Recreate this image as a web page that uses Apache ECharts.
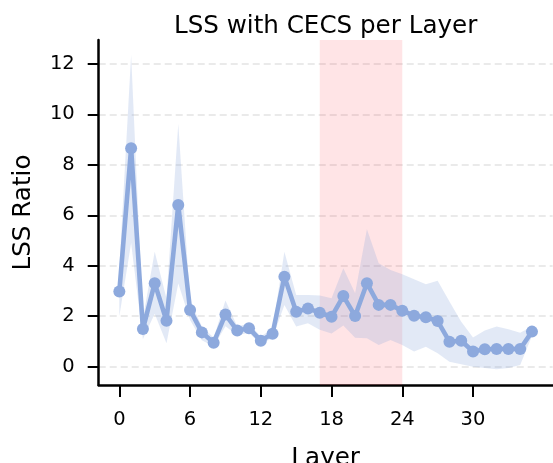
<!DOCTYPE html>
<html><head><meta charset="utf-8">
<script src="https://cdn.jsdelivr.net/npm/echarts@6/dist/echarts.min.js"></script>
<style>html,body{margin:0;padding:0;background:#fff;overflow:hidden}#c{width:553px;height:463px}</style>
</head><body><div id="c"></div>
<script>
const layers = [0,1,2,3,4,5,6,7,8,9,10,11,12,13,14,15,16,17,18,19,20,21,22,23,24,25,26,27,28,29,30,31,32,33,34,35];
const meanLSS = [2.98,8.66,1.49,3.31,1.82,6.41,2.25,1.36,0.95,2.07,1.43,1.52,1.03,1.31,3.57,2.18,2.31,2.14,1.98,2.80,2.01,3.31,2.45,2.45,2.22,2.02,1.96,1.81,0.99,1.03,0.60,0.69,0.70,0.70,0.70,1.39];
const upperLSS = [3.9,12.36,1.9,4.56,2.7,9.62,2.6,1.6,1.15,2.62,1.6,1.7,1.2,1.5,4.56,2.84,2.84,2.82,2.71,3.90,2.91,5.45,4.10,3.83,3.66,3.47,3.27,3.41,2.58,1.78,1.16,1.43,1.59,1.48,1.35,1.59];
const lowerLSS = [2.0,4.9,1.1,2.1,0.93,3.3,1.85,1.05,0.8,1.6,1.25,1.35,0.88,1.15,2.45,1.59,1.72,1.46,1.32,1.63,1.15,1.13,0.86,1.06,0.86,0.60,0.79,0.53,0.20,0.10,0.00,-0.05,-0.10,-0.05,0.07,1.22];
const highlightRange = [17, 24];
const xTicks = [0,6,12,18,24,30];
const yTicks = [0,2,4,6,8,10,12];

const FONT = 'DejaVu Sans';
const LINE = '#8DA9DD';
const chart = echarts.init(document.getElementById('c'), null, {renderer:'canvas'});
const bandData = layers.map((x,i) => [x, lowerLSS[i], upperLSS[i]]);

function renderBand(params, api) {
  if (params.dataIndex !== 0) return null;
  const pts = [];
  for (let i = 0; i < layers.length; i++) pts.push(api.coord([layers[i], upperLSS[i]]));
  for (let i = layers.length - 1; i >= 0; i--) pts.push(api.coord([layers[i], lowerLSS[i]]));
  return {type: 'polygon', shape: {points: pts}, style: {fill: 'rgba(141,169,221,0.25)', stroke: null}, silent: true};
}

chart.setOption({
  animation: false,
  backgroundColor: '#fff',
  title: {
    text: 'LSS with CECS per Layer',
    left: 325.6, top: 14, textAlign: 'center', padding: 0,
    textStyle: {fontSize: 24.6, fontWeight: 'normal', color: '#000', fontFamily: FONT}
  },
  grid: {left: 98.7, top: 40, width: 453.9, height: 345, containLabel: false, outerBoundsMode: 'none'},
  xAxis: {
    type: 'value', min: -1.75, max: 36.75,
    axisLine: {show: true, onZero: false, lineStyle: {color: '#000', width: 2.5}},
    axisTick: {show: true, customValues: xTicks, length: 12, lineStyle: {color: '#000', width: 2}},
    axisLabel: {customValues: xTicks, fontSize: 19.5, color: '#000', margin: 25, fontFamily: FONT},
    splitLine: {show: false},
    name: 'Layer', nameLocation: 'middle', nameGap: 61,
    nameTextStyle: {fontSize: 24.6, color: '#000', fontFamily: FONT}
  },
  yAxis: {
    type: 'value', min: -0.726, max: 12.95,
    axisLine: {show: true, onZero: false, lineStyle: {color: '#000', width: 2.5}},
    axisTick: {show: true, customValues: yTicks, length: 11, lineStyle: {color: '#000', width: 2}},
    axisLabel: {customValues: yTicks, fontSize: 19.5, color: '#000', margin: 24, fontFamily: FONT},
    splitLine: {show: true, lineStyle: {color: '#e3e3e3', width: 1.5, type: [7,4]}},
    name: 'LSS Ratio', nameLocation: 'middle', nameGap: 63, nameRotate: 90,
    nameTextStyle: {fontSize: 24.6, color: '#000', fontFamily: FONT}
  },
  series: [
    {
      type: 'custom', name: 'band', data: bandData, encode: {x: 0, y: [1, 2]},
      renderItem: renderBand, silent: true, z: 1, clip: true,
      markArea: {silent: true, itemStyle: {color: 'rgba(255,30,50,0.12)'},
        data: [[{xAxis: highlightRange[0]}, {xAxis: highlightRange[1]}]]}
    },
    {
      type: 'line', name: 'mean', data: layers.map((x,i) => [x, meanLSS[i]]), z: 5,
      symbol: 'circle', symbolSize: 12, showSymbol: true,
      lineStyle: {color: LINE, width: 4.6}, itemStyle: {color: LINE, borderWidth: 0}
    }
  ]
});
</script></body></html>
